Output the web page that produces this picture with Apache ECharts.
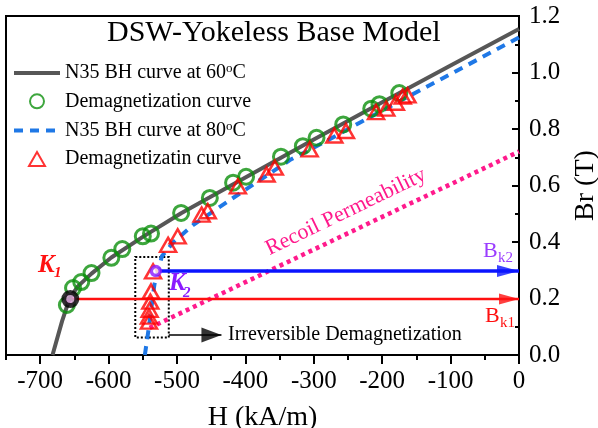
<!DOCTYPE html>
<html>
<head>
<meta charset="utf-8">
<script src="https://cdn.jsdelivr.net/npm/echarts@6/dist/echarts.min.js"></script>
<style>
  html, body { margin: 0; padding: 0; background: #fff; }
  #chart { width: 598px; height: 428px; }
</style>
</head>
<body>
<div id="chart"></div>
<script>
// curve data (H in kA/m, B in T)
const curve60H = [-682, -668, -657, -645, -625, -596, -550, -494, -452, -400, -300, -200, -100, 0];
const curve60B = [0, 0.12, 0.2, 0.243, 0.288, 0.345, 0.418, 0.502, 0.558, 0.628, 0.763, 0.895, 1.025, 1.154];

const demag60H = [-661, -652, -640, -625, -596, -580, -550, -538, -494, -452, -418, -399, -348, -316, -296, -257, -216, -204, -175];
const demag60B = [0.177, 0.237, 0.258, 0.29, 0.344, 0.375, 0.42, 0.43, 0.503, 0.556, 0.61, 0.631, 0.702, 0.739, 0.769, 0.816, 0.872, 0.888, 0.927];

const curve80H = [-547, -541, -533, -522, -505, -476, -440, -400, -335, -282, -233, -150, 0];
const curve80B = [0, 0.1, 0.25, 0.35, 0.4, 0.461, 0.52, 0.585, 0.69, 0.757, 0.822, 0.93, 1.124];

const demag80H = [-163, -170, -180, -194, -209, -253, -270, -306, -357, -369, -411, -455, -464, -499, -513, -535, -538, -539, -540, -541, -541];
const demag80B = [0.919, 0.915, 0.893, 0.872, 0.86, 0.793, 0.777, 0.728, 0.663, 0.639, 0.597, 0.509, 0.497, 0.42, 0.39, 0.296, 0.225, 0.189, 0.16, 0.136, 0.118];

const recoilH = [-540, 0];
const recoilB = [0.096, 0.72];

const k1 = [-656, 0.198];
const k2 = [-531, 0.297];

const irrevBoxH = [-561, -512];
const irrevBoxB = [0.062, 0.347];
const irrevArrowH = [-512, -435];
const irrevArrowB = 0.071;

const xMajor = [-700, -600, -500, -400, -300, -200, -100, 0];
const xMinor = [-750, -650, -550, -450, -350, -250, -150, -50];

const legendNames = ['N35 BH curve at 60oC', 'Demagnetization curve', 'N35 BH curve at 80oC', 'Demagnetizatin curve'];

const FONT = 'Liberation Serif';
const zip = (a, b) => a.map((v, i) => [v, b[i]]);

const chart = echarts.init(document.getElementById('chart'));

const arrowHead = (pt, color, size) => ({
  type: 'scatter',
  data: [pt],
  symbol: 'triangle',
  symbolSize: size,
  symbolRotate: -90,
  symbolOffset: [-size[1] / 2, 0],
  itemStyle: { color: color },
  silent: true,
  z: 4
});

const serif = (size, extra) => Object.assign({ fontFamily: FONT, fontSize: size, color: '#000' }, extra || {});

const option = {
  animation: false,
  textStyle: { fontFamily: FONT, color: '#000' },
  title: {
    text: 'DSW-Yokeless Base Model',
    left: 107,
    top: 18,
    padding: 0,
    textStyle: serif(30, { fontWeight: 'normal' })
  },
  grid: {
    left: 6, right: 79, top: 16, bottom: 73,
    outerBoundsMode: 'none',
    containLabel: false,
    show: true, borderColor: '#000', borderWidth: 2, backgroundColor: 'transparent'
  },
  legend: {
    orient: 'vertical',
    left: 12,
    top: 62,
    padding: 0,
    itemWidth: 46,
    itemHeight: 14,
    itemGap: 8.3,
    selectedMode: false,
    data: [
      { name: legendNames[0], itemStyle: { opacity: 0 }, lineStyle: { width: 4, color: '#575757' } },
      { name: legendNames[1] },
      { name: legendNames[2], itemStyle: { opacity: 0 }, lineStyle: { width: 4, color: '#1f78e6', type: [9, 7] } },
      { name: legendNames[3], icon: 'path://M8,0 L16,14 L0,14 Z' }
    ],
    formatter: name => {
      const m = name.match(/^(.*\d+)oC$/);
      return m ? '{t|' + m[1] + '}{sup|o}{t|C}' : '{t|' + name + '}';
    },
    textStyle: serif(20, {
      lineHeight: 20,
      rich: {
        t: serif(20, { lineHeight: 20 }),
        sup: serif(13, { verticalAlign: 'bottom', lineHeight: 12, padding: [0, 0, 8, 0] })
      }
    })
  },
  xAxis: [{
    type: 'value', min: -750, max: 0, position: 'bottom',
    axisLine: { lineStyle: { color: '#000', width: 2 } },
    axisTick: { customValues: xMajor, length: 9, lineStyle: { color: '#000', width: 2 } },
    axisLabel: Object.assign(serif(25), {
      customValues: xMajor, margin: 14,
      formatter: v => '{t|' + v + '}',
      rich: { t: serif(25) }
    }),
    splitLine: { show: false },
    name: '{t|H (kA/m)}', nameLocation: 'middle', nameGap: 49,
    nameTextStyle: serif(28, { rich: { t: serif(28) } })
  }, {
    type: 'value', min: -750, max: 0, position: 'bottom',
    axisLine: { show: false },
    axisTick: { customValues: xMinor, length: 5, lineStyle: { color: '#000', width: 2 } },
    axisLabel: { show: false },
    splitLine: { show: false }
  }],
  yAxis: {
    type: 'value', min: 0, max: 1.2, interval: 0.2, position: 'right',
    axisLine: { show: true, lineStyle: { color: '#000', width: 2 } },
    axisTick: { inside: true, length: 7, lineStyle: { color: '#000', width: 2 } },
    minorTick: { show: true, splitNumber: 2, length: 4, lineStyle: { color: '#000', width: 2 } },
    axisLabel: Object.assign(serif(25), {
      margin: 10,
      formatter: v => '{t|' + v.toFixed(1) + '}',
      rich: { t: serif(25) }
    }),
    splitLine: { show: false },
    name: '{t|Br (T)}', nameLocation: 'middle', nameRotate: 90, nameGap: 52,
    nameTextStyle: serif(28, { rich: { t: serif(28) } })
  },
  series: [
    {
      name: legendNames[0], type: 'line', data: zip(curve60H, curve60B),
      symbol: 'none', lineStyle: { color: '#575757', width: 4 }, itemStyle: { color: '#575757' }, z: 2
    },
    {
      name: legendNames[2], type: 'line', data: zip(curve80H, curve80B),
      symbol: 'none', lineStyle: { color: '#1f78e6', width: 4, type: [9, 7] }, itemStyle: { color: '#1f78e6' }, z: 2
    },
    {
      type: 'line', data: zip(recoilH, recoilB), symbol: 'none', silent: true,
      lineStyle: { color: '#ff1a8c', width: 4.5, type: [4, 4] }, z: 2
    },
    {
      type: 'line', data: [k2, [0, k2[1]]], symbol: 'none', silent: true,
      lineStyle: { color: '#0a14ff', width: 3.5 }, z: 3
    },
    arrowHead([0, k2[1]], '#0a14ff', [12, 22]),
    {
      type: 'line', data: [k1, [0, k1[1]]], symbol: 'none', silent: true,
      lineStyle: { color: '#ff1010', width: 2.5 }, z: 3
    },
    arrowHead([0, k1[1]], '#ff1010', [11, 20]),
    {
      type: 'line', data: zip(irrevArrowH, [irrevArrowB, irrevArrowB]), symbol: 'none', silent: true,
      lineStyle: { color: '#000', width: 1.5 }, z: 3,
      markArea: {
        silent: true,
        itemStyle: { color: 'transparent', borderColor: '#000', borderWidth: 2, borderType: [2, 2] },
        data: [[{ coord: [irrevBoxH[0], irrevBoxB[1]] }, { coord: [irrevBoxH[1], irrevBoxB[0]] }]]
      }
    },
    arrowHead([irrevArrowH[1], irrevArrowB], '#000', [15, 20]),
    {
      name: legendNames[1], type: 'scatter', data: zip(demag60H, demag60B),
      symbol: 'circle', symbolSize: 15,
      itemStyle: { color: 'rgba(0,0,0,0)', borderColor: '#0c900c', borderWidth: 3 }, z: 5
    },
    {
      name: legendNames[3], type: 'scatter', data: zip(demag80H, demag80B),
      symbol: 'triangle', symbolSize: [16, 14],
      itemStyle: { color: 'rgba(0,0,0,0)', borderColor: '#ff0000', borderWidth: 2.5 }, z: 6
    },
    {
      type: 'scatter', data: [k1], symbol: 'circle', symbolSize: 13, silent: true,
      itemStyle: { color: '#e6a3e6', borderColor: '#000', borderWidth: 5 }, z: 7
    },
    {
      type: 'scatter', data: [k2], symbol: 'circle', symbolSize: 9, silent: true,
      itemStyle: { color: '#fff', borderColor: '#8b1aff', borderWidth: 3.5 }, z: 7
    }
  ],
  graphic: [
    { type: 'text', x: 38, y: 266, style: { text: 'K', fill: '#ff1010', fontFamily: FONT, fontSize: 25, fontStyle: 'italic', fontWeight: 'bold', verticalAlign: 'middle' } },
    { type: 'text', x: 54, y: 273, style: { text: '1', fill: '#ff1010', fontFamily: FONT, fontSize: 15, fontStyle: 'italic', fontWeight: 'bold', verticalAlign: 'middle' } },
    { type: 'text', x: 169, y: 284, style: { text: 'K', fill: '#8b1aff', fontFamily: FONT, fontSize: 25, fontStyle: 'italic', fontWeight: 'bold', verticalAlign: 'middle' } },
    { type: 'text', x: 183, y: 293, style: { text: '2', fill: '#8b1aff', fontFamily: FONT, fontSize: 15, fontStyle: 'italic', fontWeight: 'bold', verticalAlign: 'middle' } },
    { type: 'text', x: 483, y: 251, style: { text: 'B', fill: '#9a3cff', fontFamily: FONT, fontSize: 22, verticalAlign: 'middle' } },
    { type: 'text', x: 498, y: 258, style: { text: 'k2', fill: '#9a3cff', fontFamily: FONT, fontSize: 15, verticalAlign: 'middle' } },
    { type: 'text', x: 485, y: 316, style: { text: 'B', fill: '#ff1010', fontFamily: FONT, fontSize: 22, verticalAlign: 'middle' } },
    { type: 'text', x: 500, y: 323, style: { text: 'k1', fill: '#ff1010', fontFamily: FONT, fontSize: 15, verticalAlign: 'middle' } },
    { type: 'text', x: 346, y: 212, rotation: 0.45, style: { text: 'Recoil Permeability', fill: '#ff1a8c', fontFamily: FONT, fontSize: 22, align: 'center', verticalAlign: 'middle' } },
    { type: 'text', x: 228, y: 335, style: { text: 'Irreversible Demagnetization', fill: '#000', fontFamily: FONT, fontSize: 20, verticalAlign: 'middle' } }
  ]
};

chart.setOption(option);
</script>
</body>
</html>
